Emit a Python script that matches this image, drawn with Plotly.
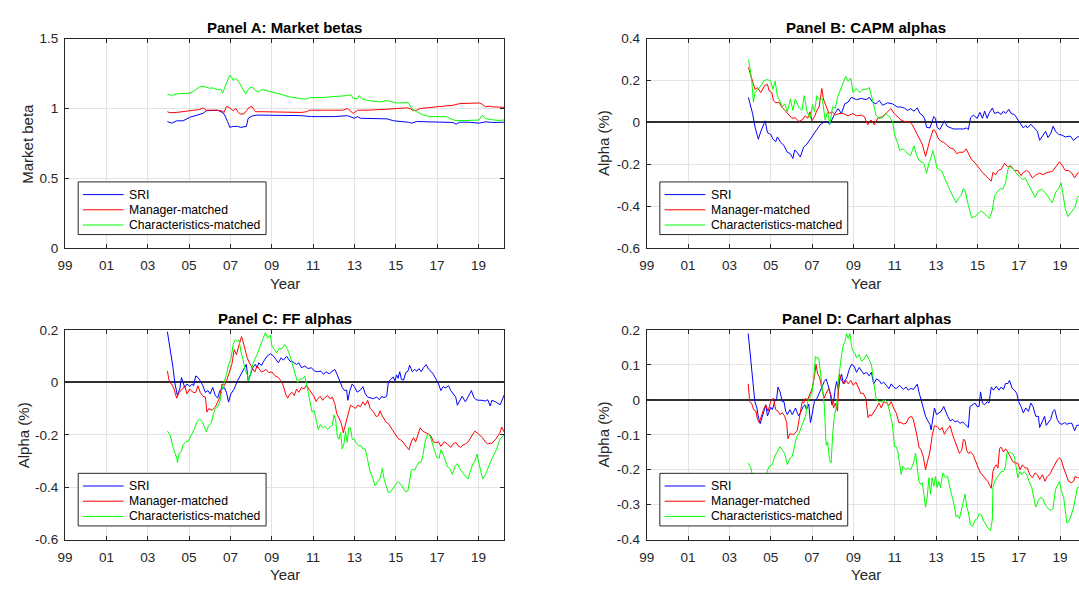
import plotly.graph_objects as go

# ---------------------------------------------------------------- data
YEAR_TICKS = [1999, 2001, 2003, 2005, 2007, 2009, 2011, 2013, 2015, 2017, 2019]
YEAR_TICK_LABELS = ["99", "01", "03", "05", "07", "09", "11", "13", "15", "17", "19"]

SERIES_NAMES = ["SRI", "Manager-matched", "Characteristics-matched"]
SERIES_COLORS = ["#0000ff", "#ff0000", "#00ff00"]

# Panel A: market betas
A_SRI_YEAR = [2003.95, 2004.16, 2004.40, 2004.71, 2005.03, 2005.35, 2005.67, 2005.83, 2006.15, 2006.38,
              2006.54, 2006.70, 2006.86, 2006.97, 2007.13, 2007.34, 2007.50, 2007.66, 2007.77, 2007.86,
              2008.05, 2008.29, 2009.17, 2010.44, 2010.92, 2012.03, 2012.67, 2012.83, 2012.99, 2013.15,
              2013.30, 2014.58, 2014.90, 2015.61, 2015.77, 2016.01, 2016.96, 2017.76, 2017.92, 2018.08,
              2018.55, 2019.03, 2019.35, 2019.67, 2020.25]
A_SRI_BETA = [0.907, 0.895, 0.912, 0.912, 0.937, 0.953, 0.965, 0.984, 0.984, 0.988,
              0.977, 0.960, 0.907, 0.865, 0.872, 0.872, 0.865, 0.872, 0.872, 0.930,
              0.947, 0.953, 0.953, 0.949, 0.942, 0.942, 0.949, 0.942, 0.930, 0.942,
              0.930, 0.926, 0.912, 0.902, 0.895, 0.907, 0.902, 0.900, 0.888, 0.902,
              0.902, 0.895, 0.905, 0.900, 0.902]

A_MGR_YEAR = [2003.95, 2004.08, 2004.40, 2005.03, 2005.51, 2005.67, 2005.83, 2006.22, 2006.54, 2006.70,
              2006.81, 2006.97, 2007.13, 2007.26, 2007.39, 2007.50, 2007.66, 2007.77, 2007.93, 2008.05,
              2008.21, 2008.53, 2009.17, 2009.80, 2010.44, 2010.68, 2010.84, 2011.71, 2012.43, 2012.67,
              2012.83, 2012.94, 2013.15, 2013.62, 2014.58, 2015.53, 2015.69, 2015.85, 2016.01, 2016.17,
              2016.96, 2017.76, 2018.08, 2018.55, 2019.03, 2019.19, 2019.35, 2019.51, 2019.67, 2020.00,
              2020.25]
A_MGR_BETA = [0.977, 0.970, 0.972, 0.984, 0.993, 1.005, 0.988, 0.988, 0.985, 0.972,
              1.016, 1.005, 0.984, 1.000, 0.970, 0.960, 0.962, 0.984, 1.012, 1.012,
              0.977, 0.977, 0.974, 0.972, 0.972, 0.977, 0.988, 0.988, 0.988, 1.000,
              0.982, 0.965, 0.988, 0.988, 0.995, 1.005, 1.000, 0.984, 0.988, 1.000,
              1.012, 1.023, 1.035, 1.035, 1.040, 1.030, 1.012, 1.017, 1.012, 1.010,
              1.008]

A_CHR_YEAR = [2003.95, 2004.08, 2004.16, 2004.25, 2004.40, 2004.71, 2005.03, 2005.19, 2005.35, 2005.51,
              2005.67, 2005.83, 2005.99, 2006.15, 2006.22, 2006.38, 2006.54, 2006.62, 2006.78, 2006.97,
              2007.05, 2007.13, 2007.26, 2007.34, 2007.42, 2007.58, 2007.66, 2007.74, 2007.90, 2008.05,
              2008.21, 2008.37, 2008.53, 2008.85, 2009.17, 2009.49, 2009.80, 2010.12, 2010.44, 2010.68,
              2010.84, 2011.40, 2012.03, 2012.67, 2012.83, 2012.94, 2013.15, 2013.22, 2013.38, 2013.62,
              2014.26, 2014.58, 2014.74, 2015.05, 2015.61, 2015.77, 2016.01, 2016.33, 2016.64, 2017.44,
              2017.76, 2017.92, 2018.39, 2019.03, 2019.19, 2019.35, 2019.67, 2020.00, 2020.25]
A_CHR_BETA = [1.100, 1.098, 1.090, 1.100, 1.105, 1.108, 1.110, 1.122, 1.140, 1.155,
              1.160, 1.150, 1.145, 1.148, 1.142, 1.135, 1.138, 1.110, 1.175, 1.240,
              1.225, 1.200, 1.215, 1.205, 1.186, 1.140, 1.120, 1.105, 1.145, 1.155,
              1.128, 1.120, 1.136, 1.125, 1.110, 1.100, 1.085, 1.075, 1.070, 1.067,
              1.078, 1.078, 1.083, 1.093, 1.098, 1.072, 1.070, 1.092, 1.070, 1.058,
              1.047, 1.058, 1.050, 1.040, 1.042, 1.000, 0.977, 0.953, 0.942, 0.942,
              0.920, 0.914, 0.914, 0.918, 0.953, 0.928, 0.919, 0.915, 0.918]

# Panel B: CAPM alphas (% per month)
B_SRI_YEAR = [2003.92, 2004.00, 2004.12, 2004.25, 2004.40, 2004.52, 2004.63, 2004.73, 2004.84, 2005.00,
              2005.11, 2005.24, 2005.32, 2005.48, 2005.64, 2005.80, 2005.95, 2006.07, 2006.16, 2006.27,
              2006.43, 2006.59, 2006.75, 2006.91, 2007.07, 2007.23, 2007.39, 2007.55, 2007.70, 2007.86,
              2007.94, 2008.10, 2008.26, 2008.42, 2008.58, 2008.74, 2008.90, 2009.14, 2009.38, 2009.61,
              2009.77, 2009.93, 2010.09, 2010.25, 2010.41, 2010.65, 2010.89, 2011.13, 2011.30, 2011.46,
              2011.62, 2011.77, 2011.93, 2012.09, 2012.22, 2012.33, 2012.44, 2012.54, 2012.70, 2012.81,
              2012.89, 2012.97, 2013.05, 2013.18, 2013.29, 2013.40, 2013.53, 2013.68, 2013.84, 2014.08,
              2014.32, 2014.48, 2014.56, 2014.67, 2014.80, 2014.99, 2015.12, 2015.24, 2015.35, 2015.47,
              2015.56, 2015.72, 2015.83, 2015.99, 2016.15, 2016.26, 2016.36, 2016.52, 2016.63, 2016.79,
              2016.95, 2017.11, 2017.22, 2017.34, 2017.42, 2017.58, 2017.74, 2017.90, 2018.01, 2018.14,
              2018.30, 2018.41, 2018.54, 2018.66, 2018.78, 2018.93, 2019.09, 2019.25, 2019.49, 2019.65,
              2019.84, 2020.25]
B_SRI_ALPHA = [0.120, 0.089, 0.043, -0.026, -0.080, -0.042, -0.018, 0.008, -0.049, -0.057,
               -0.080, -0.092, -0.069, -0.095, -0.110, -0.142, -0.149, -0.172, -0.131, -0.142,
               -0.165, -0.118, -0.103, -0.080, -0.057, -0.034, -0.011, 0.000, 0.005, -0.008,
               0.012, 0.043, 0.066, 0.043, 0.089, 0.097, 0.120, 0.109, 0.115, 0.109,
               0.120, 0.097, 0.089, 0.105, 0.082, 0.094, 0.089, 0.074, 0.074, 0.069,
               0.058, 0.066, 0.054, 0.069, 0.043, 0.035, 0.020, -0.023, -0.026, 0.005,
               0.028, 0.020, -0.023, -0.034, -0.014, 0.008, -0.018, -0.023, -0.031, -0.031,
               -0.031, -0.026, -0.034, 0.023, 0.035, 0.020, 0.048, 0.020, 0.054, 0.020,
               0.043, 0.069, 0.043, 0.050, 0.038, 0.054, 0.043, 0.063, 0.043, 0.038,
               0.012, -0.011, -0.026, -0.014, -0.026, -0.008, -0.026, -0.042, -0.085, -0.065,
               -0.042, -0.072, -0.054, -0.018, -0.042, -0.057, -0.060, -0.069, -0.065, -0.085,
               -0.069, -0.065]

B_MGR_YEAR = [2003.92, 2004.00, 2004.12, 2004.24, 2004.36, 2004.52, 2004.71, 2004.84, 2004.92, 2005.05,
              2005.13, 2005.24, 2005.40, 2005.53, 2005.68, 2005.88, 2006.03, 2006.19, 2006.35, 2006.51,
              2006.67, 2006.78, 2006.91, 2006.99, 2007.12, 2007.23, 2007.34, 2007.47, 2007.55, 2007.66,
              2007.82, 2007.98, 2008.13, 2008.29, 2008.50, 2008.74, 2008.98, 2009.14, 2009.38, 2009.53,
              2009.69, 2009.85, 2010.01, 2010.17, 2010.41, 2010.65, 2010.81, 2010.97, 2011.13, 2011.30,
              2011.46, 2011.70, 2011.85, 2012.01, 2012.17, 2012.33, 2012.49, 2012.60, 2012.73, 2012.86,
              2012.97, 2013.08, 2013.21, 2013.37, 2013.53, 2013.68, 2013.84, 2014.00, 2014.13, 2014.32,
              2014.45, 2014.56, 2014.72, 2014.88, 2015.04, 2015.24, 2015.47, 2015.67, 2015.75, 2015.88,
              2016.01, 2016.15, 2016.31, 2016.47, 2016.63, 2016.79, 2016.95, 2017.11, 2017.22, 2017.38,
              2017.50, 2017.66, 2017.85, 2018.01, 2018.17, 2018.38, 2018.62, 2018.81, 2018.97, 2019.09,
              2019.25, 2019.41, 2019.57, 2019.70, 2019.84, 2020.25]
B_MGR_ALPHA = [0.263, 0.235, 0.205, 0.158, 0.166, 0.143, 0.177, 0.182, 0.151, 0.143,
               0.105, 0.094, 0.097, 0.074, 0.058, 0.035, 0.020, 0.023, 0.005, 0.012,
               0.032, 0.020, 0.051, 0.008, 0.028, 0.058, 0.074, 0.162, 0.112, 0.082,
               0.043, 0.051, 0.035, 0.043, 0.043, 0.032, 0.043, 0.032, 0.035, 0.028,
               -0.011, 0.012, -0.011, 0.020, 0.028, 0.051, 0.066, 0.043, 0.028, 0.012,
               0.005, 0.005, -0.011, -0.042, -0.065, -0.103, -0.162, -0.118, -0.072, -0.034,
               -0.042, -0.072, -0.088, -0.095, -0.111, -0.122, -0.126, -0.149, -0.142, -0.142,
               -0.126, -0.149, -0.177, -0.192, -0.214, -0.238, -0.260, -0.280, -0.238, -0.249,
               -0.229, -0.223, -0.195, -0.211, -0.211, -0.229, -0.229, -0.254, -0.238, -0.229,
               -0.238, -0.265, -0.249, -0.242, -0.249, -0.238, -0.234, -0.211, -0.188, -0.203,
               -0.229, -0.229, -0.242, -0.265, -0.242, -0.235]

B_CHR_YEAR = [2003.92, 2004.00, 2004.09, 2004.16, 2004.24, 2004.36, 2004.52, 2004.68, 2004.84, 2005.00,
              2005.11, 2005.21, 2005.32, 2005.43, 2005.56, 2005.68, 2005.80, 2005.95, 2006.07, 2006.19,
              2006.35, 2006.51, 2006.62, 2006.75, 2006.91, 2007.02, 2007.12, 2007.23, 2007.34, 2007.50,
              2007.63, 2007.75, 2007.86, 2007.99, 2008.13, 2008.23, 2008.37, 2008.50, 2008.63, 2008.74,
              2008.87, 2008.98, 2009.14, 2009.30, 2009.46, 2009.61, 2009.77, 2009.93, 2010.09, 2010.25,
              2010.41, 2010.57, 2010.73, 2010.89, 2011.01, 2011.13, 2011.24, 2011.36, 2011.46, 2011.62,
              2011.77, 2011.93, 2012.06, 2012.17, 2012.28, 2012.41, 2012.54, 2012.65, 2012.73, 2012.84,
              2012.92, 2013.05, 2013.18, 2013.29, 2013.41, 2013.53, 2013.68, 2013.84, 2013.97, 2014.08,
              2014.21, 2014.32, 2014.40, 2014.56, 2014.72, 2014.88, 2015.04, 2015.16, 2015.35, 2015.47,
              2015.59, 2015.72, 2015.83, 2015.99, 2016.10, 2016.23, 2016.36, 2016.47, 2016.58, 2016.71,
              2016.87, 2017.03, 2017.18, 2017.31, 2017.47, 2017.63, 2017.79, 2017.95, 2018.11, 2018.27,
              2018.43, 2018.62, 2018.78, 2018.93, 2019.05, 2019.17, 2019.25, 2019.38, 2019.49, 2019.65,
              2019.73, 2019.84, 2020.25]
B_CHR_ALPHA = [0.300, 0.258, 0.189, 0.097, 0.143, 0.158, 0.174, 0.200, 0.205, 0.197,
               0.158, 0.197, 0.128, 0.105, 0.074, 0.089, 0.051, 0.112, 0.058, 0.112,
               0.074, 0.058, 0.128, 0.054, 0.020, 0.085, 0.051, 0.128, 0.112, 0.112,
               0.012, 0.051, -0.008, 0.074, 0.069, 0.120, 0.158, 0.189, 0.220, 0.197,
               0.212, 0.143, 0.162, 0.143, 0.158, 0.158, 0.166, 0.105, 0.035, 0.020,
               0.023, 0.043, 0.028, 0.005, -0.065, -0.095, -0.134, -0.126, -0.130, -0.149,
               -0.157, -0.111, -0.157, -0.180, -0.188, -0.195, -0.242, -0.195, -0.177, -0.134,
               -0.165, -0.218, -0.226, -0.234, -0.265, -0.295, -0.326, -0.357, -0.383, -0.363,
               -0.348, -0.315, -0.326, -0.395, -0.454, -0.449, -0.434, -0.423, -0.434, -0.449,
               -0.457, -0.418, -0.349, -0.326, -0.315, -0.318, -0.288, -0.226, -0.203, -0.218,
               -0.242, -0.257, -0.272, -0.265, -0.295, -0.326, -0.357, -0.326, -0.318, -0.334,
               -0.357, -0.383, -0.334, -0.315, -0.288, -0.357, -0.411, -0.449, -0.434, -0.411,
               -0.403, -0.357, -0.330]

# Panel C: Fama-French alphas (% per month)
C_SRI_YEAR = [2003.95, 2004.08, 2004.21, 2004.32, 2004.43, 2004.55, 2004.63, 2004.71, 2004.79, 2004.90,
              2005.03, 2005.16, 2005.22, 2005.32, 2005.43, 2005.54, 2005.67, 2005.79, 2005.91, 2006.02,
              2006.14, 2006.27, 2006.38, 2006.49, 2006.62, 2006.70, 2006.81, 2006.91, 2007.02, 2007.18,
              2007.34, 2007.50, 2007.66, 2007.77, 2007.86, 2007.97, 2008.08, 2008.21, 2008.29, 2008.37,
              2008.50, 2008.61, 2008.77, 2008.93, 2009.09, 2009.20, 2009.32, 2009.45, 2009.56, 2009.72,
              2009.88, 2010.04, 2010.20, 2010.31, 2010.44, 2010.60, 2010.76, 2010.91, 2011.07, 2011.22,
              2011.38, 2011.51, 2011.62, 2011.78, 2011.93, 2012.05, 2012.17, 2012.30, 2012.41, 2012.52,
              2012.62, 2012.68, 2012.78, 2012.89, 2013.00, 2013.13, 2013.29, 2013.41, 2013.52, 2013.64,
              2013.79, 2013.92, 2014.08, 2014.21, 2014.32, 2014.43, 2014.56, 2014.64, 2014.75, 2014.88,
              2014.96, 2015.04, 2015.11, 2015.19, 2015.27, 2015.38, 2015.48, 2015.59, 2015.67, 2015.80,
              2015.91, 2016.02, 2016.12, 2016.23, 2016.34, 2016.47, 2016.59, 2016.70, 2016.82, 2016.94,
              2017.07, 2017.18, 2017.29, 2017.42, 2017.55, 2017.66, 2017.77, 2017.90, 2017.98, 2018.09,
              2018.21, 2018.37, 2018.50, 2018.66, 2018.77, 2018.88, 2019.01, 2019.17, 2019.33, 2019.45,
              2019.57, 2019.65, 2019.85, 2020.05, 2020.25]
C_SRI_ALPHA = [0.194, 0.131, 0.063, -0.006, -0.048, -0.025, 0.019, 0.000, -0.019, -0.006,
               -0.015, -0.006, -0.013, 0.025, 0.019, 0.006, -0.013, -0.038, -0.031, -0.044,
               -0.019, -0.050, -0.060, -0.031, -0.023, -0.019, -0.038, -0.075, -0.044, -0.025,
               0.006, 0.031, 0.053, 0.069, 0.006, 0.031, 0.056, 0.069, 0.056, 0.075,
               0.065, 0.081, 0.100, 0.110, 0.100, 0.088, 0.075, 0.094, 0.085, 0.100,
               0.081, 0.078, 0.069, 0.075, 0.056, 0.063, 0.053, 0.056, 0.044, 0.041,
               0.043, 0.031, 0.041, 0.033, 0.043, 0.050, 0.029, 0.006, -0.019, -0.031,
               -0.029, -0.068, -0.031, -0.006, -0.016, -0.037, -0.029, -0.016, -0.043, -0.056,
               -0.058, -0.062, -0.056, -0.066, -0.053, -0.058, -0.053, 0.000, 0.012, 0.021,
               0.006, 0.029, 0.016, 0.041, 0.012, 0.009, 0.037, 0.043, 0.066, 0.041,
               0.050, 0.043, 0.053, 0.041, 0.056, 0.068, 0.050, 0.043, 0.031, 0.012,
               -0.006, -0.031, -0.016, -0.021, -0.012, -0.031, -0.043, -0.056, -0.087, -0.068,
               -0.053, -0.074, -0.056, -0.031, -0.056, -0.066, -0.068, -0.068, -0.071, -0.066,
               -0.090, -0.068, -0.075, -0.085, -0.047]

C_MGR_YEAR = [2003.95, 2004.05, 2004.16, 2004.27, 2004.40, 2004.52, 2004.68, 2004.79, 2004.90, 2005.03,
              2005.19, 2005.32, 2005.43, 2005.54, 2005.67, 2005.79, 2005.86, 2005.95, 2006.11, 2006.27,
              2006.38, 2006.49, 2006.59, 2006.70, 2006.81, 2006.94, 2007.07, 2007.18, 2007.29, 2007.42,
              2007.54, 2007.61, 2007.70, 2007.81, 2007.93, 2008.05, 2008.18, 2008.29, 2008.40, 2008.50,
              2008.61, 2008.72, 2008.85, 2009.01, 2009.17, 2009.32, 2009.45, 2009.56, 2009.67, 2009.77,
              2009.88, 2009.99, 2010.09, 2010.20, 2010.31, 2010.44, 2010.56, 2010.68, 2010.79, 2010.91,
              2011.04, 2011.15, 2011.22, 2011.35, 2011.46, 2011.57, 2011.70, 2011.82, 2011.93, 2012.05,
              2012.14, 2012.25, 2012.36, 2012.46, 2012.52, 2012.62, 2012.73, 2012.81, 2012.94, 2013.05,
              2013.16, 2013.29, 2013.41, 2013.52, 2013.64, 2013.76, 2013.92, 2014.05, 2014.16, 2014.24,
              2014.32, 2014.43, 2014.53, 2014.64, 2014.75, 2014.88, 2015.00, 2015.11, 2015.23, 2015.35,
              2015.48, 2015.64, 2015.75, 2015.86, 2015.96, 2016.07, 2016.18, 2016.31, 2016.47, 2016.59,
              2016.70, 2016.82, 2016.94, 2017.07, 2017.18, 2017.34, 2017.50, 2017.66, 2017.77, 2017.90,
              2018.02, 2018.14, 2018.25, 2018.37, 2018.50, 2018.66, 2018.82, 2018.93, 2019.09, 2019.20,
              2019.33, 2019.45, 2019.57, 2019.65, 2019.85, 2020.05, 2020.12, 2020.25]
C_MGR_ALPHA = [0.044, 0.000, -0.006, -0.025, -0.060, -0.038, -0.025, -0.013, -0.044, -0.025,
               -0.038, -0.038, -0.013, -0.038, -0.053, -0.056, -0.113, -0.100, -0.106, -0.094,
               -0.075, -0.056, -0.006, -0.013, 0.006, 0.038, 0.069, 0.125, 0.106, 0.144,
               0.175, 0.156, 0.125, 0.094, 0.073, 0.056, 0.040, 0.063, 0.050, 0.040,
               0.044, 0.050, 0.038, 0.040, 0.025, 0.019, 0.006, -0.013, -0.044, -0.060,
               -0.044, -0.038, -0.050, -0.025, -0.038, -0.019, -0.025, -0.010, -0.025, -0.038,
               -0.053, -0.073, -0.062, -0.053, -0.068, -0.058, -0.050, -0.062, -0.056, -0.081,
               -0.118, -0.136, -0.155, -0.192, -0.173, -0.149, -0.112, -0.087, -0.093, -0.099,
               -0.087, -0.093, -0.074, -0.087, -0.068, -0.099, -0.112, -0.130, -0.127, -0.108,
               -0.124, -0.140, -0.152, -0.157, -0.170, -0.186, -0.202, -0.214, -0.219, -0.227,
               -0.242, -0.257, -0.227, -0.211, -0.227, -0.204, -0.173, -0.186, -0.192, -0.198,
               -0.204, -0.227, -0.229, -0.227, -0.244, -0.227, -0.235, -0.248, -0.235, -0.229,
               -0.242, -0.248, -0.239, -0.235, -0.227, -0.204, -0.186, -0.192, -0.204, -0.211,
               -0.227, -0.235, -0.232, -0.232, -0.215, -0.190, -0.170, -0.190]

C_CHR_YEAR = [2003.95, 2004.08, 2004.21, 2004.32, 2004.40, 2004.44, 2004.52, 2004.63, 2004.71, 2004.84,
              2004.95, 2005.03, 2005.16, 2005.27, 2005.38, 2005.51, 2005.64, 2005.75, 2005.83, 2005.95,
              2006.07, 2006.18, 2006.27, 2006.38, 2006.49, 2006.59, 2006.70, 2006.81, 2006.91, 2007.02,
              2007.13, 2007.23, 2007.34, 2007.42, 2007.50, 2007.61, 2007.70, 2007.81, 2007.89, 2007.97,
              2008.08, 2008.21, 2008.29, 2008.40, 2008.50, 2008.61, 2008.69, 2008.80, 2008.93, 2009.01,
              2009.13, 2009.24, 2009.36, 2009.48, 2009.64, 2009.77, 2009.88, 2009.99, 2010.12, 2010.25,
              2010.36, 2010.48, 2010.60, 2010.72, 2010.83, 2010.95, 2011.04, 2011.15, 2011.19, 2011.25,
              2011.35, 2011.46, 2011.57, 2011.70, 2011.82, 2011.93, 2012.01, 2012.09, 2012.17, 2012.25,
              2012.33, 2012.41, 2012.49, 2012.57, 2012.65, 2012.73, 2012.81, 2012.89, 2013.00, 2013.10,
              2013.21, 2013.32, 2013.41, 2013.52, 2013.64, 2013.76, 2013.89, 2014.00, 2014.11, 2014.24,
              2014.35, 2014.43, 2014.53, 2014.64, 2014.75, 2014.88, 2015.00, 2015.11, 2015.23, 2015.35,
              2015.48, 2015.59, 2015.67, 2015.75, 2015.83, 2015.91, 2015.99, 2016.12, 2016.23, 2016.31,
              2016.43, 2016.55, 2016.66, 2016.75, 2016.86, 2016.97, 2017.10, 2017.18, 2017.29, 2017.39,
              2017.50, 2017.61, 2017.74, 2017.86, 2017.98, 2018.09, 2018.21, 2018.37, 2018.50, 2018.61,
              2018.72, 2018.82, 2018.93, 2019.01, 2019.12, 2019.20, 2019.33, 2019.45, 2019.57, 2019.65,
              2019.85, 2020.05, 2020.25]
C_CHR_ALPHA = [-0.185, -0.200, -0.244, -0.269, -0.288, -0.306, -0.269, -0.263, -0.238, -0.225,
               -0.225, -0.213, -0.194, -0.175, -0.150, -0.140, -0.150, -0.169, -0.188, -0.163,
               -0.156, -0.119, -0.100, -0.094, -0.073, -0.025, 0.000, 0.031, 0.069, 0.088,
               0.144, 0.163, 0.156, 0.163, 0.119, 0.088, 0.050, 0.031, 0.006, 0.038,
               0.069, 0.094, 0.106, 0.131, 0.150, 0.175, 0.190, 0.169, 0.181, 0.138,
               0.125, 0.113, 0.131, 0.128, 0.144, 0.125, 0.103, 0.069, 0.031, 0.000,
               0.013, 0.013, 0.025, -0.019, -0.056, -0.113, -0.106, -0.150, -0.155, -0.180,
               -0.161, -0.173, -0.167, -0.180, -0.170, -0.165, -0.124, -0.143, -0.204, -0.217,
               -0.192, -0.254, -0.235, -0.186, -0.229, -0.173, -0.173, -0.217, -0.217, -0.232,
               -0.242, -0.242, -0.254, -0.254, -0.297, -0.341, -0.366, -0.394, -0.380, -0.366,
               -0.328, -0.366, -0.394, -0.421, -0.418, -0.405, -0.390, -0.378, -0.388, -0.405,
               -0.418, -0.413, -0.378, -0.335, -0.331, -0.335, -0.322, -0.304, -0.304, -0.279,
               -0.223, -0.198, -0.204, -0.229, -0.254, -0.285, -0.289, -0.257, -0.273, -0.297,
               -0.322, -0.328, -0.351, -0.322, -0.310, -0.328, -0.341, -0.359, -0.368, -0.341,
               -0.310, -0.304, -0.273, -0.304, -0.341, -0.368, -0.353, -0.328, -0.310, -0.291,
               -0.260, -0.215, -0.200]

# Panel D: Carhart alphas (% per month)
D_SRI_YEAR = [2003.91, 2004.01, 2004.07, 2004.17, 2004.23, 2004.33, 2004.39, 2004.49, 2004.55, 2004.65,
              2004.76, 2004.84, 2004.92, 2005.00, 2005.08, 2005.19, 2005.29, 2005.35, 2005.45, 2005.56,
              2005.64, 2005.72, 2005.80, 2005.93, 2006.04, 2006.12, 2006.20, 2006.28, 2006.36, 2006.47,
              2006.57, 2006.65, 2006.73, 2006.84, 2006.92, 2007.00, 2007.11, 2007.24, 2007.36, 2007.48,
              2007.59, 2007.68, 2007.80, 2007.88, 2007.96, 2008.04, 2008.12, 2008.19, 2008.27, 2008.35,
              2008.43, 2008.51, 2008.59, 2008.67, 2008.80, 2008.91, 2009.03, 2009.15, 2009.28, 2009.39,
              2009.50, 2009.63, 2009.76, 2009.87, 2009.98, 2010.11, 2010.24, 2010.35, 2010.46, 2010.59,
              2010.72, 2010.83, 2010.94, 2011.07, 2011.23, 2011.42, 2011.54, 2011.65, 2011.77, 2011.90,
              2012.01, 2012.09, 2012.17, 2012.25, 2012.38, 2012.49, 2012.60, 2012.70, 2012.76, 2012.86,
              2012.92, 2013.02, 2013.13, 2013.24, 2013.37, 2013.45, 2013.56, 2013.68, 2013.81, 2013.92,
              2014.03, 2014.16, 2014.29, 2014.40, 2014.56, 2014.64, 2014.77, 2014.88, 2014.99, 2015.08,
              2015.15, 2015.24, 2015.35, 2015.47, 2015.56, 2015.67, 2015.78, 2015.91, 2016.04, 2016.15,
              2016.26, 2016.36, 2016.47, 2016.55, 2016.68, 2016.79, 2016.90, 2016.99, 2017.11, 2017.22,
              2017.34, 2017.47, 2017.58, 2017.69, 2017.82, 2017.95, 2018.01, 2018.14, 2018.25, 2018.33,
              2018.43, 2018.54, 2018.65, 2018.74, 2018.86, 2018.97, 2019.09, 2019.22, 2019.33, 2019.44,
              2019.57, 2019.70, 2019.81, 2020.25]
D_SRI_ALPHA = [0.190, 0.125, 0.106, 0.042, -0.005, -0.023, -0.046, -0.068, -0.056, -0.032,
               -0.014, -0.046, -0.032, -0.021, -0.028, -0.005, 0.005, 0.037, 0.023, -0.005,
               -0.005, -0.032, -0.042, -0.028, -0.042, -0.032, -0.023, -0.037, -0.046, -0.032,
               -0.019, -0.014, -0.028, -0.012, -0.065, -0.042, -0.005, 0.005, 0.019, 0.037,
               0.053, 0.060, 0.037, 0.019, -0.014, -0.005, 0.032, 0.053, 0.028, 0.060,
               0.074, 0.046, 0.056, 0.062, 0.088, 0.102, 0.097, 0.079, 0.093, 0.083,
               0.074, 0.079, 0.069, 0.079, 0.046, 0.060, 0.056, 0.046, 0.051, 0.042,
               0.032, 0.046, 0.037, 0.032, 0.042, 0.030, 0.037, 0.028, 0.033, 0.030,
               0.037, 0.045, 0.023, 0.005, -0.023, -0.047, -0.060, -0.070, -0.086, -0.047,
               -0.023, -0.042, -0.037, -0.033, -0.019, -0.033, -0.047, -0.060, -0.056, -0.063,
               -0.060, -0.067, -0.063, -0.070, -0.079, -0.019, -0.014, -0.009, -0.019, -0.019,
               0.023, -0.009, -0.014, -0.005, -0.009, 0.037, 0.028, 0.039, 0.028, 0.037,
               0.030, 0.047, 0.047, 0.056, 0.033, 0.028, 0.019, -0.005, -0.019, -0.037,
               -0.023, -0.033, -0.009, -0.019, -0.047, -0.047, -0.079, -0.060, -0.047, -0.073,
               -0.065, -0.056, -0.033, -0.028, -0.056, -0.067, -0.070, -0.065, -0.070, -0.067,
               -0.067, -0.088, -0.073, -0.070]

D_MGR_YEAR = [2003.91, 2003.98, 2004.07, 2004.17, 2004.28, 2004.36, 2004.44, 2004.55, 2004.65, 2004.76,
              2004.87, 2005.00, 2005.13, 2005.24, 2005.35, 2005.45, 2005.56, 2005.67, 2005.77, 2005.83,
              2005.93, 2006.04, 2006.15, 2006.28, 2006.36, 2006.44, 2006.52, 2006.60, 2006.68, 2006.76,
              2006.84, 2006.92, 2007.00, 2007.11, 2007.19, 2007.27, 2007.36, 2007.48, 2007.59, 2007.68,
              2007.80, 2007.91, 2008.04, 2008.12, 2008.23, 2008.32, 2008.43, 2008.55, 2008.64, 2008.75,
              2008.87, 2008.99, 2009.12, 2009.23, 2009.35, 2009.47, 2009.60, 2009.71, 2009.79, 2009.87,
              2009.98, 2010.11, 2010.24, 2010.35, 2010.46, 2010.59, 2010.72, 2010.83, 2010.94, 2011.07,
              2011.20, 2011.31, 2011.42, 2011.55, 2011.68, 2011.81, 2011.90, 2012.01, 2012.09, 2012.17,
              2012.28, 2012.38, 2012.49, 2012.60, 2012.70, 2012.81, 2012.92, 2013.05, 2013.18, 2013.29,
              2013.40, 2013.49, 2013.60, 2013.68, 2013.81, 2013.92, 2014.03, 2014.13, 2014.24, 2014.32,
              2014.40, 2014.48, 2014.56, 2014.67, 2014.80, 2014.93, 2015.04, 2015.15, 2015.28, 2015.40,
              2015.51, 2015.59, 2015.67, 2015.75, 2015.83, 2015.91, 2015.99, 2016.07, 2016.15, 2016.26,
              2016.36, 2016.47, 2016.58, 2016.71, 2016.83, 2016.95, 2017.06, 2017.18, 2017.31, 2017.42,
              2017.53, 2017.66, 2017.79, 2017.90, 2018.01, 2018.14, 2018.27, 2018.38, 2018.49, 2018.62,
              2018.74, 2018.86, 2018.97, 2019.06, 2019.17, 2019.28, 2019.41, 2019.54, 2019.65, 2019.73,
              2019.84, 2020.25]
D_MGR_ALPHA = [0.046, -0.005, -0.009, -0.028, -0.032, -0.056, -0.065, -0.042, -0.028, -0.014,
               -0.032, -0.005, 0.005, -0.028, -0.032, -0.042, -0.037, -0.046, -0.065, -0.111,
               -0.097, -0.099, -0.097, -0.088, -0.060, -0.042, -0.005, -0.009, 0.005, -0.003,
               0.009, 0.023, 0.032, 0.065, 0.102, 0.074, 0.065, 0.032, 0.005, 0.019,
               0.032, 0.014, -0.023, -0.009, -0.032, 0.074, 0.056, 0.046, 0.056, 0.046,
               0.056, 0.042, 0.051, 0.037, 0.019, 0.019, 0.005, -0.051, -0.042, -0.046,
               -0.037, -0.023, -0.009, -0.023, -0.005, -0.009, -0.016, -0.005, -0.023, -0.037,
               -0.065, -0.065, -0.069, -0.067, -0.051, -0.047, -0.056, -0.084, -0.107, -0.135,
               -0.144, -0.163, -0.200, -0.172, -0.149, -0.102, -0.074, -0.076, -0.086, -0.079,
               -0.098, -0.088, -0.079, -0.074, -0.102, -0.121, -0.140, -0.153, -0.144, -0.113,
               -0.116, -0.144, -0.153, -0.149, -0.158, -0.181, -0.195, -0.209, -0.219, -0.228,
               -0.234, -0.244, -0.253, -0.205, -0.191, -0.186, -0.195, -0.140, -0.135, -0.149,
               -0.140, -0.149, -0.163, -0.177, -0.181, -0.181, -0.200, -0.186, -0.195, -0.195,
               -0.214, -0.223, -0.209, -0.214, -0.228, -0.214, -0.233, -0.219, -0.214, -0.200,
               -0.186, -0.172, -0.166, -0.172, -0.195, -0.214, -0.233, -0.237, -0.233, -0.219,
               -0.223, -0.220]

D_CHR_YEAR = [2003.91, 2004.04, 2004.12, 2004.30, 2004.50, 2004.65, 2004.76, 2004.92, 2005.08, 2005.19,
              2005.32, 2005.45, 2005.56, 2005.67, 2005.80, 2005.93, 2006.04, 2006.15, 2006.25, 2006.36,
              2006.47, 2006.57, 2006.68, 2006.79, 2006.88, 2007.00, 2007.08, 2007.16, 2007.24, 2007.32,
              2007.40, 2007.48, 2007.59, 2007.68, 2007.75, 2007.84, 2007.92, 2008.00, 2008.07, 2008.16,
              2008.23, 2008.27, 2008.35, 2008.43, 2008.51, 2008.59, 2008.67, 2008.75, 2008.83, 2008.91,
              2008.99, 2009.07, 2009.15, 2009.28, 2009.39, 2009.50, 2009.63, 2009.76, 2009.87, 2009.98,
              2010.11, 2010.24, 2010.35, 2010.51, 2010.62, 2010.75, 2010.88, 2010.99, 2011.07, 2011.15,
              2011.23, 2011.31, 2011.39, 2011.54, 2011.65, 2011.77, 2011.90, 2011.97, 2012.01, 2012.09,
              2012.17, 2012.25, 2012.33, 2012.41, 2012.49, 2012.57, 2012.65, 2012.73, 2012.81, 2012.89,
              2012.97, 2013.05, 2013.13, 2013.21, 2013.33, 2013.45, 2013.56, 2013.65, 2013.76, 2013.88,
              2013.97, 2014.03, 2014.13, 2014.24, 2014.32, 2014.40, 2014.48, 2014.56, 2014.67, 2014.77,
              2014.88, 2014.99, 2015.08, 2015.20, 2015.28, 2015.40, 2015.51, 2015.63, 2015.72, 2015.75,
              2015.83, 2015.94, 2016.04, 2016.15, 2016.26, 2016.36, 2016.42, 2016.55, 2016.68, 2016.79,
              2016.87, 2016.95, 2017.06, 2017.15, 2017.26, 2017.38, 2017.50, 2017.63, 2017.74, 2017.82,
              2017.95, 2018.06, 2018.17, 2018.30, 2018.43, 2018.54, 2018.65, 2018.78, 2018.90, 2018.97,
              2019.06, 2019.17, 2019.25, 2019.33, 2019.41, 2019.54, 2019.65, 2019.73, 2019.84, 2020.25]
D_CHR_ALPHA = [-0.181, -0.194, -0.218, -0.230, -0.235, -0.225, -0.216, -0.190, -0.185, -0.162,
               -0.148, -0.134, -0.144, -0.153, -0.185, -0.167, -0.162, -0.134, -0.106, -0.097,
               -0.079, -0.065, -0.046, -0.005, 0.005, 0.023, 0.060, 0.125, 0.120, 0.120,
               0.083, 0.032, -0.014, -0.130, -0.120, -0.171, -0.181, -0.097, -0.051, -0.023,
               0.009, 0.056, 0.097, 0.130, 0.157, 0.167, 0.190, 0.176, 0.190, 0.153,
               0.139, 0.134, 0.120, 0.130, 0.111, 0.116, 0.130, 0.116, 0.102, 0.051,
               0.000, -0.005, -0.005, 0.000, -0.005, -0.032, -0.069, -0.134, -0.134, -0.148,
               -0.185, -0.213, -0.190, -0.200, -0.195, -0.200, -0.181, -0.167, -0.153, -0.195,
               -0.233, -0.242, -0.237, -0.270, -0.307, -0.279, -0.223, -0.270, -0.223, -0.247,
               -0.219, -0.251, -0.233, -0.251, -0.209, -0.223, -0.219, -0.247, -0.270, -0.302,
               -0.335, -0.330, -0.340, -0.312, -0.298, -0.270, -0.307, -0.321, -0.358, -0.363,
               -0.344, -0.340, -0.326, -0.330, -0.344, -0.358, -0.367, -0.374, -0.344, -0.251,
               -0.233, -0.223, -0.214, -0.205, -0.205, -0.191, -0.153, -0.149, -0.153, -0.163,
               -0.191, -0.223, -0.205, -0.214, -0.205, -0.214, -0.233, -0.251, -0.284, -0.307,
               -0.288, -0.279, -0.284, -0.302, -0.312, -0.316, -0.312, -0.256, -0.242, -0.233,
               -0.260, -0.279, -0.316, -0.353, -0.349, -0.330, -0.307, -0.279, -0.251, -0.240]

PANELS = [
    dict(title="Panel A: Market betas", ylabel="Market beta",
         yrange=[0, 1.5], yticks=[0, 0.5, 1, 1.5], yticklabels=["0", "0.5", "1", "1.5"],
         zero_line=False, ylabel_x=19.5,
         series=[(A_SRI_YEAR, A_SRI_BETA), (A_MGR_YEAR, A_MGR_BETA), (A_CHR_YEAR, A_CHR_BETA)]),
    dict(title="Panel B: CAPM alphas", ylabel="Alpha (%)",
         yrange=[-0.6, 0.4], yticks=[-0.6, -0.4, -0.2, 0, 0.2, 0.4],
         yticklabels=["-0.6", "-0.4", "-0.2", "0", "0.2", "0.4"],
         zero_line=True, ylabel_x=600,
         series=[(B_SRI_YEAR, B_SRI_ALPHA), (B_MGR_YEAR, B_MGR_ALPHA), (B_CHR_YEAR, B_CHR_ALPHA)]),
    dict(title="Panel C: FF alphas", ylabel="Alpha (%)",
         yrange=[-0.6, 0.2], yticks=[-0.6, -0.4, -0.2, 0, 0.2],
         yticklabels=["-0.6", "-0.4", "-0.2", "0", "0.2"],
         zero_line=True, ylabel_x=15.5,
         series=[(C_SRI_YEAR, C_SRI_ALPHA), (C_MGR_YEAR, C_MGR_ALPHA), (C_CHR_YEAR, C_CHR_ALPHA)]),
    dict(title="Panel D: Carhart alphas", ylabel="Alpha (%)",
         yrange=[-0.4, 0.2], yticks=[-0.4, -0.3, -0.2, -0.1, 0, 0.1, 0.2],
         yticklabels=["-0.4", "-0.3", "-0.2", "-0.1", "0", "0.1", "0.2"],
         zero_line=True, ylabel_x=600,
         series=[(D_SRI_YEAR, D_SRI_ALPHA), (D_MGR_YEAR, D_MGR_ALPHA), (D_CHR_YEAR, D_CHR_ALPHA)]),
]

# ---------------------------------------------------------------- layout
W, H = 1079, 590
FONT = "Liberation Sans, Arial, Helvetica, sans-serif"
INK = "#262626"
GRID = "#e3e3e3"

COL_LEFT = [57.5, 643.5]      # px
COL_WIDTH = 442.5
ROW_TOP = [32.5, 331.5]
ROW_HEIGHT = 215.0
X_START, X_END = 1999.0, 2020.25


def fx(px):
    return px / W


def fy(py):
    return 1 - py / H


fig = go.Figure()
shapes, annotations = [], []

for i, p in enumerate(PANELS):
    row, col = divmod(i, 2)
    left, top = COL_LEFT[col], ROW_TOP[row]
    right, bottom = left + COL_WIDTH, top + ROW_HEIGHT
    # the right-hand column runs past the page edge and is clipped there
    vis_right = min(right, W)
    x_end = X_START + (vis_right - left) / COL_WIDTH * (X_END - X_START)
    clipped = vis_right < right

    suffix = "" if i == 0 else str(i + 1)
    for (xs, ys) in p["series"]:
        assert len(xs) == len(ys)

    xaxis = dict(
        domain=[fx(left), fx(vis_right)], range=[X_START, x_end], anchor="y" + suffix,
        tickmode="array", tickvals=YEAR_TICKS, ticktext=YEAR_TICK_LABELS,
        ticks="inside", ticklen=4, tickwidth=1, tickcolor=INK,
        showline=True, linecolor=INK, linewidth=1, mirror="ticks",
        showgrid=True, gridcolor=GRID, gridwidth=1, zeroline=False,
        tickfont=dict(family=FONT, size=13.5, color=INK), ticklabelstandoff=5,
        fixedrange=True,
    )
    yaxis = dict(
        domain=[fy(bottom), fy(top)], range=p["yrange"], anchor="x" + suffix,
        tickmode="array", tickvals=p["yticks"], ticktext=p["yticklabels"],
        ticks="inside", ticklen=4, tickwidth=1, tickcolor=INK,
        showline=True, linecolor=INK, linewidth=1,
        mirror=False if clipped else "ticks",
        showgrid=True, gridcolor=GRID, gridwidth=1,
        zeroline=p["zero_line"], zerolinecolor="#303030", zerolinewidth=1.5,
        tickfont=dict(family=FONT, size=13.5, color=INK), ticklabelstandoff=3,
        fixedrange=True,
    )
    fig.update_layout({"xaxis" + suffix: xaxis, "yaxis" + suffix: yaxis})

    for name, color, (xs, ys) in zip(SERIES_NAMES, SERIES_COLORS, p["series"]):
        fig.add_trace(go.Scatter(
            x=xs, y=ys, mode="lines", name=name, showlegend=False, hoverinfo="skip",
            line=dict(color=color, width=1), xaxis="x" + suffix, yaxis="y" + suffix,
        ))

    cx = (left + right) / 2
    annotations.append(dict(
        text="<b>%s</b>" % p["title"], x=fx(cx), y=fy(top - 11.5), xref="paper", yref="paper",
        xanchor="center", yanchor="middle", showarrow=False,
        font=dict(family=FONT, size=15, color="#000000"),
    ))
    annotations.append(dict(
        text="Year", x=fx(cx), y=fy(bottom + 36), xref="paper", yref="paper",
        xanchor="center", yanchor="middle", showarrow=False,
        font=dict(family=FONT, size=15, color=INK),
    ))
    annotations.append(dict(
        text=p["ylabel"], x=fx(p["ylabel_x"]), y=fy((top + bottom) / 2), xref="paper", yref="paper",
        xanchor="center", yanchor="middle", showarrow=False, textangle=-90,
        font=dict(family=FONT, size=15, color=INK),
    ))

    # legend box in the lower-left corner of each panel
    box_l, box_r = left + 13.2, left + 202.5
    box_t, box_b = bottom - 68, bottom - 14
    shapes.append(dict(type="rect", xref="paper", yref="paper", layer="above",
                       x0=fx(box_l), x1=fx(box_r), y0=fy(box_b), y1=fy(box_t),
                       line=dict(color=INK, width=1), fillcolor="#ffffff"))
    for k, (name, color) in enumerate(zip(SERIES_NAMES, SERIES_COLORS)):
        ry = box_t + 13 + 15.6 * k
        shapes.append(dict(type="line", xref="paper", yref="paper", layer="above",
                           x0=fx(left + 18), x1=fx(left + 59), y0=fy(ry), y1=fy(ry),
                           line=dict(color=color, width=1)))
        annotations.append(dict(
            text=name, x=fx(left + 62.5), y=fy(ry), xref="paper", yref="paper",
            xanchor="left", yanchor="middle", showarrow=False,
            font=dict(family=FONT, size=12.2, color="#000000"),
        ))

fig.update_layout(
    width=W, height=H, autosize=False,
    margin=dict(l=0, r=0, t=0, b=0, pad=0),
    paper_bgcolor="#ffffff", plot_bgcolor="#ffffff",
    showlegend=False, shapes=shapes, annotations=annotations,
    font=dict(family=FONT, color=INK),
)

fig.write_html("out.html", config={"displayModeBar": False},
               post_script="document.body.style.margin='0';document.body.style.overflow='hidden';")
